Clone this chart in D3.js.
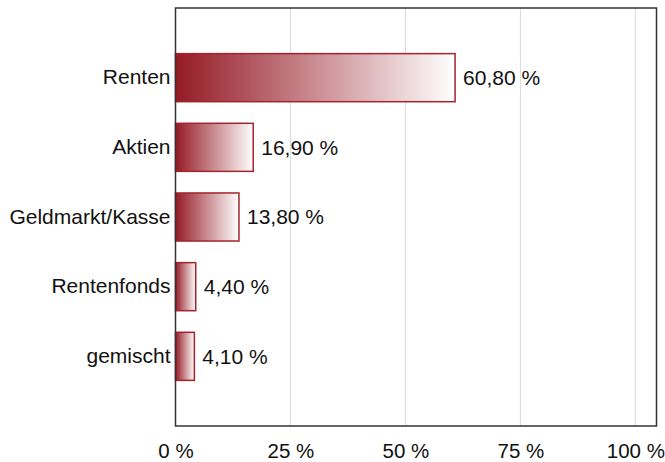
<!DOCTYPE html>
<html>
<head>
<meta charset="utf-8">
<script src="https://cdn.jsdelivr.net/npm/d3@7"></script>
<style>
  body { margin: 0; background: #fff; }
  text { font-family: "Liberation Sans", Arial, sans-serif; fill: #111; }
</style>
</head>
<body>
<div id="chart"></div>
<script>
// Chart data
const categories = ["Renten", "Aktien", "Geldmarkt/Kasse", "Rentenfonds", "gemischt"];
const shares = [60.8, 16.9, 13.8, 4.4, 4.1];
const tickValues = [0, 25, 50, 75, 100];

const width = 665, height = 462;
const margin = { top: 8, right: 8.5, bottom: 36, left: 175.5 };
const innerW = width - margin.left - margin.right;
const innerH = height - margin.top - margin.bottom;
const fontSize = 21;

const svg = d3.select("#chart").append("svg")
  .attr("width", width)
  .attr("height", height);

// Gradient fill, dark red to white across each bar
const grad = svg.append("defs").append("linearGradient")
  .attr("id", "barGrad")
  .attr("x1", "0%").attr("x2", "100%")
  .attr("y1", "0%").attr("y2", "0%");
grad.append("stop").attr("offset", "0%").attr("stop-color", "#951a25");
grad.append("stop").attr("offset", "100%").attr("stop-color", "#ffffff");

const chart = svg.append("g")
  .attr("transform", `translate(${margin.left},${margin.top})`);

const xScale = d3.scaleLinear().domain([0, 104.6]).range([0, innerW]);
const yScale = d3.scaleBand()
  .domain(categories)
  .range([0, innerH])
  .paddingInner(0.31)
  .paddingOuter(0.655);

const fmt = v => d3.format(".2f")(v).replace(".", ",") + " %";

// Vertical gridlines
chart.selectAll(".grid")
  .data(tickValues.filter(d => d > 0))
  .join("line")
  .attr("class", "grid")
  .attr("x1", d => xScale(d)).attr("x2", d => xScale(d))
  .attr("y1", 0).attr("y2", innerH)
  .attr("stroke", "#d9d9d9")
  .attr("stroke-width", 1);

// Bars
const data = categories.map((c, i) => ({ cat: c, value: shares[i] }));

chart.selectAll(".bar")
  .data(data)
  .join("rect")
  .attr("class", "bar")
  .attr("x", 0)
  .attr("y", d => yScale(d.cat))
  .attr("width", d => xScale(d.value))
  .attr("height", yScale.bandwidth())
  .attr("fill", "url(#barGrad)")
  .attr("stroke", "#a3232e")
  .attr("stroke-width", 1.5);

// Value labels
chart.selectAll(".val")
  .data(data)
  .join("text")
  .attr("class", "val")
  .attr("x", d => xScale(d.value) + 8)
  .attr("y", d => yScale(d.cat) + yScale.bandwidth() / 2)
  .attr("dy", "0.35em")
  .attr("font-size", fontSize)
  .text(d => fmt(d.value));

// Frame
chart.append("rect")
  .attr("x", 0).attr("y", 0)
  .attr("width", innerW).attr("height", innerH)
  .attr("fill", "none")
  .attr("stroke", "#333")
  .attr("stroke-width", 1.5);

// Y axis labels
const yAxis = d3.axisLeft(yScale).tickSize(0).tickPadding(5);
chart.append("g")
  .call(yAxis)
  .call(g => g.select(".domain").remove())
  .selectAll("text")
  .attr("font-size", fontSize)
  .style("font-family", "Liberation Sans, Arial, sans-serif")
  .attr("fill", "#111");

// X axis labels
const xAxis = d3.axisBottom(xScale)
  .tickValues(tickValues)
  .tickSize(0)
  .tickPadding(17)
  .tickFormat(d => d + " %");
chart.append("g")
  .attr("transform", `translate(0,${innerH})`)
  .call(xAxis)
  .call(g => g.select(".domain").remove())
  .selectAll("text")
  .attr("font-size", 20.5)
  .style("font-family", "Liberation Sans, Arial, sans-serif")
  .attr("fill", "#111");
</script>
</body>
</html>
